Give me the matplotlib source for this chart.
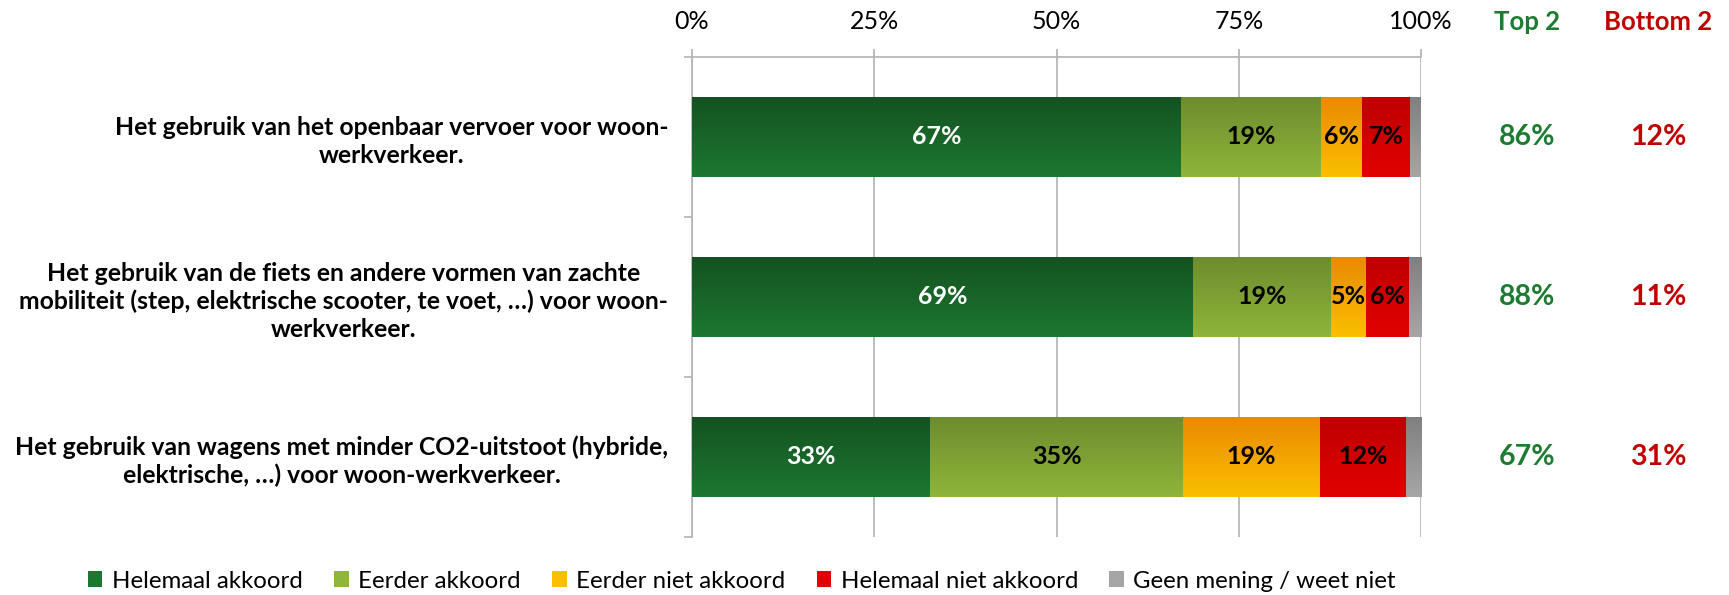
import numpy as np
import matplotlib.pyplot as plt
from matplotlib.colors import LinearSegmentedColormap
from matplotlib.patches import Patch

plt.rcParams['font.family'] = ['Lato', 'DejaVu Sans']

categories = [
    "Het gebruik van het openbaar vervoer voor woon-\nwerkverkeer.",
    "Het gebruik van de fiets en andere vormen van zachte\n"
    "mobiliteit (step, elektrische scooter, te voet, …) voor woon-\nwerkverkeer.",
    "Het gebruik van wagens met minder CO2-uitstoot (hybride,\n"
    "elektrische, …) voor woon-werkverkeer.",
]
series_names = ["Helemaal akkoord", "Eerder akkoord", "Eerder niet akkoord",
                "Helemaal niet akkoord", "Geen mening / weet niet"]
helemaal_akkoord = [67.1, 68.7, 32.7]
eerder_akkoord = [19.2, 18.9, 34.6]
eerder_niet_akkoord = [5.6, 4.8, 18.8]
helemaal_niet_akkoord = [6.6, 5.9, 11.8]
geen_mening = [1.5, 1.7, 2.1]
xticks = [0, 25, 50, 75, 100]

series = [helemaal_akkoord, eerder_akkoord, eerder_niet_akkoord,
          helemaal_niet_akkoord, geen_mening]
# (top colour, bottom colour) of the vertical gradient
grads = [("#145222", "#1c7830"), ("#6e8c2e", "#8fb53a"), ("#ea8a00", "#fbbf00"),
         ("#c00000", "#e20000"), ("#808080", "#a6a6a6")]
txt_colors = ["white", "black", "black", "black", None]
grid_col = "#b3b3b3"

fig = plt.figure(figsize=(17.29, 5.95), dpi=100)
ax = fig.add_axes([0.4002, 0.0975, 0.4217, 0.8067])

y = np.arange(len(categories))
height = 0.5
left = np.zeros(len(categories))
grad = np.linspace(0, 1, 64).reshape(-1, 1)
for vals, (c_top, c_bot), tc in zip(series, grads, txt_colors):
    vals = np.array(vals)
    bars = ax.barh(y, vals, left=left, height=height, color=c_bot, zorder=2)
    cmap = LinearSegmentedColormap.from_list("g", [c_top, c_bot])
    for rect in bars:
        x0, y0 = rect.get_x(), rect.get_y()
        w, h = rect.get_width(), rect.get_height()
        im = ax.imshow(grad, cmap=cmap, aspect="auto", origin="upper",
                       extent=(x0, x0 + w, y0 + h, y0), zorder=3,
                       interpolation="bilinear")
        im.set_clip_path(rect)
    if tc is not None:
        for yi, l, v in zip(y, left, vals):
            ax.text(l + v / 2, yi, f"{v:.0f}%", ha="center", va="center",
                    color=tc, fontsize=18, fontweight="bold", zorder=4)
    left = left + vals

ax.set_xlim(0, 100)
ax.set_ylim(len(categories) - 0.5, -0.5)

ax.xaxis.tick_top()
ax.set_xticks(xticks)
ax.set_xticklabels([f"{t}%" for t in xticks], fontsize=18)
ax.tick_params(axis="x", length=6, width=1.2, color=grid_col, pad=11)
ax.grid(axis="x", color=grid_col, linewidth=1.2, zorder=0)

ax.set_yticks(y)
ax.set_yticklabels(categories, fontsize=17.8, fontweight="bold",
                   multialignment="center", linespacing=1.25)
ax.tick_params(axis="y", length=0, pad=17)
ax.set_yticks(np.arange(len(categories) + 1) - 0.5, minor=True)
ax.tick_params(axis="y", which="minor", length=6, width=1.2, color=grid_col)

for s in ["right", "bottom"]:
    ax.spines[s].set_visible(False)
for s in ["left", "top"]:
    ax.spines[s].set_color(grid_col)
    ax.spines[s].set_linewidth(1.2)

# Top 2 / Bottom 2 columns
top2 = np.array(helemaal_akkoord) + np.array(eerder_akkoord)
bottom2 = np.array(eerder_niet_akkoord) + np.array(helemaal_niet_akkoord)
green, red = "#1e7b32", "#c00000"
fig.text(1527 / 1729, 1 - 22 / 595, "Top 2", ha="center", va="center",
         color=green, fontsize=18.5, fontweight="bold")
fig.text(1658 / 1729, 1 - 22 / 595, "Bottom 2", ha="center", va="center",
         color=red, fontsize=18.5, fontweight="bold")
for yi, t, b in zip(y, top2, bottom2):
    ax.annotate(f"{t:.0f}%", xy=(1527 / 1729, yi), xycoords=("figure fraction", "data"),
                ha="center", va="center", color=green, fontsize=20.5, fontweight="bold")
    ax.annotate(f"{b:.0f}%", xy=(1658 / 1729, yi), xycoords=("figure fraction", "data"),
                ha="center", va="center", color=red, fontsize=20.5, fontweight="bold")

handles = [Patch(facecolor=c_bot, edgecolor="none") for _, c_bot in grads]
fig.legend(handles, series_names, loc="center", ncol=5, frameon=False,
           bbox_to_anchor=(742 / 1729, 1 - 581 / 595), fontsize=17.3,
           handlelength=0.6, handleheight=0.6, handletextpad=0.4,
           columnspacing=1.3)

fig.savefig("out.png", dpi=100)
